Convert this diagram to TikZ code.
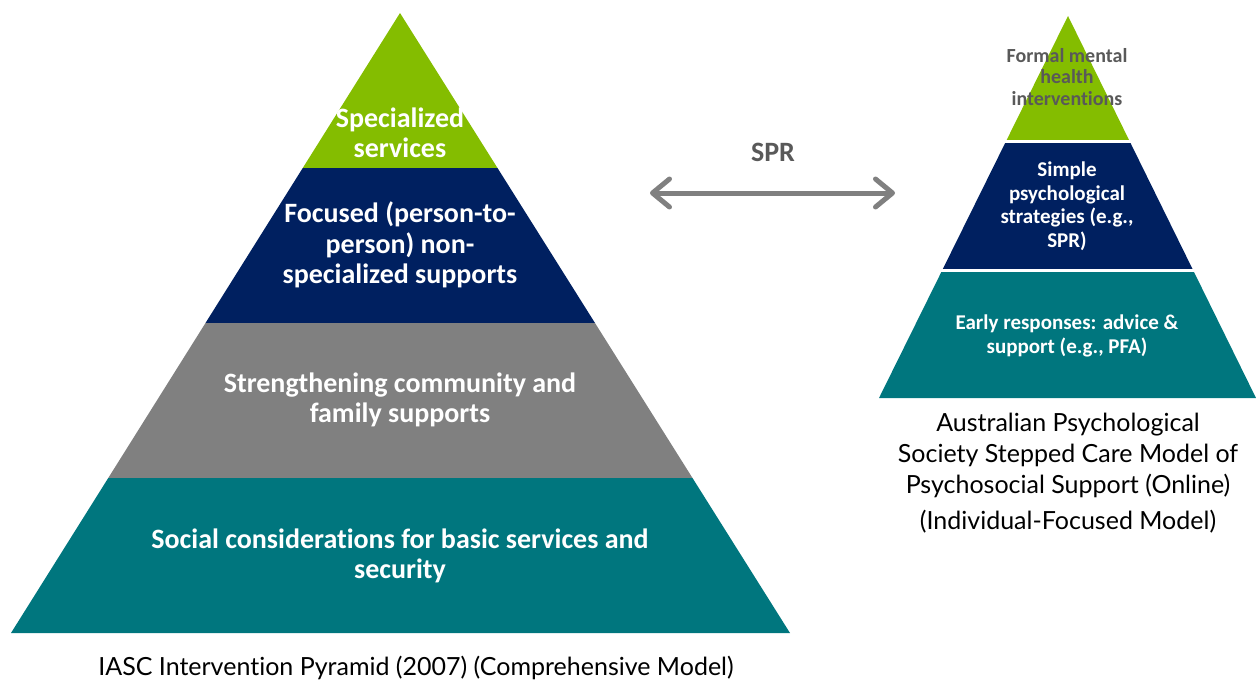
\documentclass[tikz,border=0pt]{standalone}
\usepackage{fontspec}
\setmainfont{Carlito}[Ligatures={TeX,NoCommon}]
\newfontfamily\capfont{Lato}[Ligatures={TeX,NoCommon}]
\usetikzlibrary{arrows.meta,calc}
\definecolor{pgreen}{RGB}{132,189,0}
\definecolor{pnavy}{RGB}{0,32,96}
\definecolor{pgray}{RGB}{128,128,128}
\definecolor{pteal}{RGB}{0,118,126}
\definecolor{darktext}{RGB}{89,89,89}
\definecolor{arrowgray}{RGB}{128,128,128}
\begin{document}
\begin{tikzpicture}[x=1pt,y=-1pt,
  bandtext/.style={text=white,align=center,font=\fontsize{28}{30.5}\selectfont\bfseries},
  smalltext/.style={text=white,align=center,font=\fontsize{21}{23.5}\selectfont\bfseries},
  captext/.style={text=black,align=center,font=\capfont\fontsize{25}{31}\selectfont},
  sep/.style={draw=white,line width=3.5pt}]
\useasboundingbox (0,0) rectangle (1256,686);
% left pyramid
\coordinate (LA) at (400,13);
\coordinate (LL) at (11,633);
\coordinate (LR) at (790,633);
\coordinate (L1l) at ($(LA)!0.25!(LL)$);
\coordinate (L1r) at ($(LA)!0.25!(LR)$);
\coordinate (L2l) at ($(LA)!0.5!(LL)$);
\coordinate (L2r) at ($(LA)!0.5!(LR)$);
\coordinate (L3l) at ($(LA)!0.75!(LL)$);
\coordinate (L3r) at ($(LA)!0.75!(LR)$);
\fill[pgreen] (LA) -- (L1l) -- (L1r) -- cycle;
\fill[pnavy] (L1l) -- (L2l) -- (L2r) -- (L1r) -- cycle;
\fill[pgray] (L2l) -- (L3l) -- (L3r) -- (L2r) -- cycle;
\fill[pteal] (L3l) -- (LL) -- (LR) -- (L3r) -- cycle;
\node[bandtext] (l1) at (400,133) {Specialized\\services};
\node[bandtext] (l2) at (400,245) {Focused (person-to-\\person) non-\\specialized supports};
\node[bandtext] (l3) at (400,400) {Strengthening community and\\family supports};
\node[bandtext] (l4) at (400,556) {Social considerations for basic services and\\security};
\node[captext] (lcap) at (416,668) {IASC Intervention Pyramid (2007) (Comprehensive Model)};
% right pyramid
\coordinate (RA) at (1068,16);
\coordinate (RL) at (879,398);
\coordinate (RR) at (1256,398);
\coordinate (R1l) at ($(RA)!0.3285!(RL)$);
\coordinate (R1r) at ($(RA)!0.3285!(RR)$);
\coordinate (R2l) at ($(RA)!0.666!(RL)$);
\coordinate (R2r) at ($(RA)!0.666!(RR)$);
\fill[pgreen] (RA) -- (R1l) -- (R1r) -- cycle;
\fill[pnavy] (R1l) -- (R2l) -- (R2r) -- (R1r) -- cycle;
\fill[pteal] (R2l) -- (RL) -- (RR) -- (R2r) -- cycle;
\draw[sep] ($(R1l)+(-3,0)$) -- ($(R1r)+(3,0)$);
\draw[sep] ($(R2l)+(-3,0)$) -- ($(R2r)+(3,0)$);
\node[align=center,text=darktext,font=\fontsize{20}{21.5}\selectfont\bfseries] (r1) at (1067,77) {Formal mental\\health\\interventions};
\node[smalltext] (r2) at (1067,206) {Simple\\psychological\\strategies (e.g.,\\SPR)};
\node[smalltext] (r3) at (1067,336) {Early responses: advice \&\\support (e.g., PFA)};
\node[captext] (rcap) at (1068,473) {Australian Psychological\\Society Stepped Care Model of\\Psychosocial Support (Online)\\[5pt](Individual-Focused Model)};
% arrow
\coordinate (arrL) at (650,193);
\coordinate (arrR) at (895,193);
\draw[arrowgray,line width=5pt,{Straight Barb[length=17pt,width=28pt,round]}-{Straight Barb[length=17pt,width=28pt,round]}] (arrL) -- (arrR);
\node[text=darktext,font=\fontsize{28}{30}\selectfont\bfseries] (spr) at (773,152) {SPR};
\end{tikzpicture}
\end{document}
